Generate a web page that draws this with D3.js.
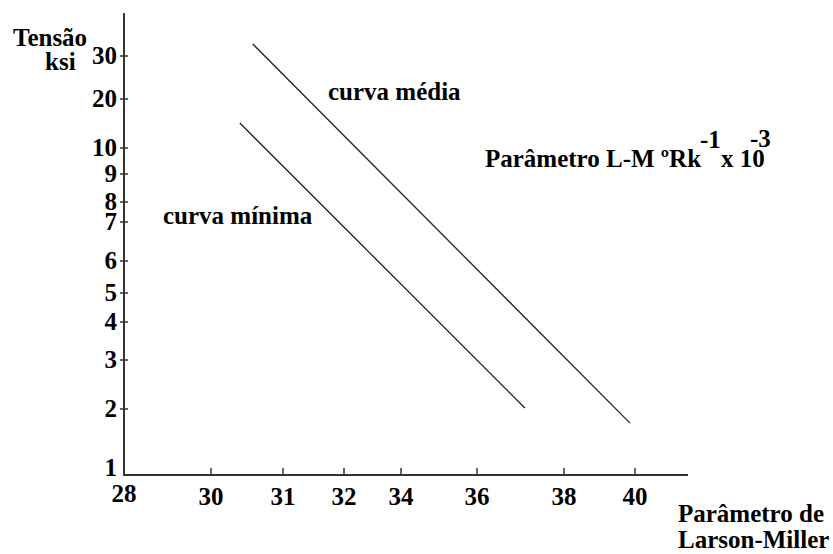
<!DOCTYPE html>
<html>
<head>
<meta charset="utf-8">
<script src="https://cdn.jsdelivr.net/npm/d3@7"></script>
<style>
  body { margin: 0; background: #fff; }
</style>
</head>
<body>
<div class="chart"></div>
<script>
// chart values
const xTicks = [28, 30, 31, 32, 34, 36, 38, 40];
const yTicks = [1, 2, 3, 4, 5, 6, 7, 8, 9, 10, 20, 30];
const curvaMedia = [{ x: 30.58, y: 32.8 }, { x: 39.86, y: 1.76 }];
const curvaMinima = [{ x: 30.40, y: 15.1 }, { x: 37.10, y: 2.02 }];

// the original axes are hand-spaced, so the scales are piecewise
const xTickPos = [124, 211, 283, 344, 401, 477, 564, 635];
const yTickPos = [468, 409, 360, 322, 293, 261, 222, 202, 174, 148, 99, 56];

const width = 833, height = 554;
const axisX = 124, axisY = 475;

const svg = d3.select('.chart').append('svg')
  .attr('width', width)
  .attr('height', height);

// serif bold for every label
function label(sel) {
  return sel
    .style('font-family', '"Liberation Serif"')
    .style('font-weight', 'bold')
    .style('font-size', '25px')
    .style('fill', '#000');
}

const x = d3.scaleLinear().domain(xTicks).range(xTickPos);
const y = d3.scaleLinear().domain(yTicks).range(yTickPos);

// y axis
svg.append('line')
  .attr('x1', axisX).attr('x2', axisX)
  .attr('y1', 13).attr('y2', axisY)
  .attr('stroke', '#333').attr('stroke-width', 2);

// x axis
svg.append('line')
  .attr('x1', axisX - 1).attr('x2', 688)
  .attr('y1', axisY).attr('y2', axisY)
  .attr('stroke', '#333').attr('stroke-width', 2);

svg.selectAll('.ytick')
  .data(yTicks.filter(d => d !== 1))
  .enter().append('line')
  .attr('class', 'ytick')
  .attr('x1', axisX - 4).attr('x2', axisX + 4)
  .attr('y1', d => y(d)).attr('y2', d => y(d))
  .attr('stroke', '#333').attr('stroke-width', 1.5);

svg.selectAll('.ylabel')
  .data(yTicks)
  .enter().append('text')
  .attr('class', 'ylabel')
  .attr('x', axisX - 7)
  .attr('y', d => y(d) + 8)
  .attr('text-anchor', 'end')
  .call(label)
  .text(d => d);

svg.selectAll('.xtick')
  .data(xTicks.filter(d => d !== 28))
  .enter().append('line')
  .attr('class', 'xtick')
  .attr('x1', d => x(d)).attr('x2', d => x(d))
  .attr('y1', axisY - 7).attr('y2', axisY)
  .attr('stroke', '#333').attr('stroke-width', 1.5);

svg.selectAll('.xlabel')
  .data(xTicks)
  .enter().append('text')
  .attr('class', 'xlabel')
  .attr('x', d => x(d))
  .attr('y', d => d === 28 ? 502 : 505)
  .attr('text-anchor', 'middle')
  .call(label)
  .text(d => d);

// curves
const line = d3.line().x(d => x(d.x)).y(d => y(d.y));
[curvaMedia, curvaMinima].forEach(c => {
  svg.append('path')
    .datum(c)
    .attr('d', line)
    .attr('fill', 'none')
    .attr('stroke', '#222')
    .attr('stroke-width', 1.3);
});

// labels
svg.append('text').attr('x', 13).attr('y', 46).call(label).text('Tensão');
svg.append('text').attr('x', 45).attr('y', 70).call(label).text('ksi');
svg.append('text').attr('x', 328).attr('y', 100).call(label).text('curva média');
svg.append('text').attr('x', 163).attr('y', 224).call(label).text('curva mínima');

svg.append('text').attr('x', 485).attr('y', 167).call(label).text('Parâmetro L-M ºRk');
svg.append('text').attr('x', 721).attr('y', 167).call(label).text('x 10');
svg.append('text').attr('x', 700).attr('y', 148).call(label).text('-1');
svg.append('text').attr('x', 750).attr('y', 147).call(label).text('-3');

svg.append('text').attr('x', 678).attr('y', 522).call(label).text('Parâmetro de');
svg.append('text').attr('x', 678).attr('y', 548).call(label).text('Larson-Miller');
</script>
</body>
</html>
